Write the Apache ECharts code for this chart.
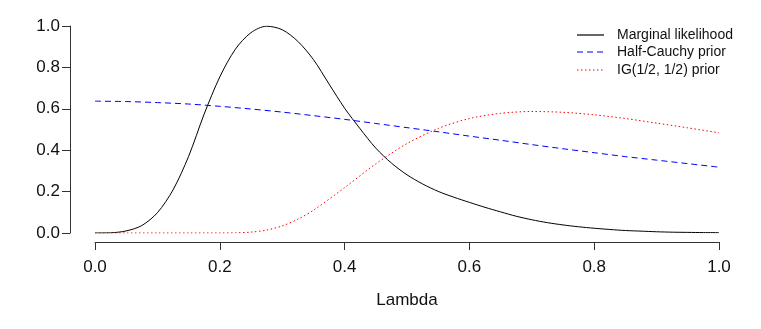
<!DOCTYPE html>
<html><head><meta charset="utf-8">
<script src="https://cdn.jsdelivr.net/npm/echarts@6/dist/echarts.min.js"></script>
<style>html,body{margin:0;padding:0;background:#fff}#c{width:761px;height:329px}</style>
</head><body><div id="c"></div>
<script>
const lambdaML = [0,0.025,0.05,0.075,0.1,0.125,0.15,0.175,0.2,0.225,0.25,0.275,0.3,0.325,0.35,0.375,0.4,0.425,0.45,0.475,0.5,0.525,0.55,0.575,0.6,0.625,0.65,0.675,0.7,0.725,0.75,0.775,0.8,0.825,0.85,0.875,0.9,0.925,0.95,0.975,1.0];
const marginalLik = [0,0.001,0.01,0.036,0.098,0.208,0.37,0.575,0.754,0.888,0.968,0.999,0.982,0.926,0.838,0.72,0.603,0.503,0.41,0.338,0.281,0.237,0.201,0.173,0.148,0.124,0.102,0.081,0.064,0.05,0.039,0.03,0.023,0.017,0.012,0.009,0.006,0.004,0.003,0.002,0.0015];
const lambdaHC = [0,0.05,0.1,0.15,0.2,0.25,0.3,0.35,0.4,0.45,0.5,0.55,0.6,0.65,0.7,0.75,0.8,0.85,0.9,0.95,1.0];
const halfCauchy = [0.637,0.635,0.630,0.623,0.612,0.599,0.584,0.567,0.549,0.529,0.509,0.489,0.468,0.448,0.427,0.407,0.388,0.369,0.352,0.335,0.318];
const lambdaIG = [0,0.05,0.1,0.15,0.2,0.225,0.25,0.275,0.3,0.325,0.35,0.4,0.45,0.5,0.55,0.6,0.65,0.7,0.75,0.8,0.85,0.9,0.95,1.0];
const igPrior = [0,0,0,0,0.0001,0.0008,0.0043,0.0142,0.0342,0.0664,0.110,0.219,0.334,0.432,0.505,0.553,0.578,0.587,0.583,0.571,0.553,0.531,0.508,0.484];
const xTicks = [0,0.2,0.4,0.6,0.8,1.0];
const legendNames = ['Marginal likelihood','Half-Cauchy prior','IG(1/2, 1/2) prior'];

const zip = (xs, ys) => xs.map((x,i)=>[x,ys[i]]);
const font = 'Liberation Sans, Arial, sans-serif';
const chart = echarts.init(document.getElementById('c'), null, {renderer:'canvas'});
const axisCommon = {
  type:'value', min:0, max:1, interval:0.2,
  axisLine:{show:true, onZero:false, lineStyle:{color:'#333', width:1}},
  axisTick:{show:true, length:8, lineStyle:{color:'#333'}},
  splitLine:{show:false},
  axisLabel:{color:'#111', fontSize:17, fontFamily:font, formatter:v=>v.toFixed(1)}
};
const legY = [35,52,70];
const legStyles = [
  {stroke:'#666', lineWidth:2},
  {stroke:'#0000ff', lineWidth:1, lineDash:[6,4]},
  {stroke:'#ff0000', lineWidth:1, lineDash:[1.5,2.5]}
];
const graphic = [];
legendNames.forEach((n,i)=>{
  graphic.push({type:'line', shape:{x1:577,y1:legY[i],x2:604,y2:legY[i]}, style:legStyles[i], silent:true});
  graphic.push({type:'text', x:617, y:legY[i], style:{text:n, fill:'#111', font:'14px '+font, verticalAlign:'middle'}, silent:true});
});
chart.setOption({
  animation:false,
  backgroundColor:'#fff',
  grid:{left:95, right:42, top:26, bottom:96, containLabel:false},
  xAxis:Object.assign({}, axisCommon, {
    position:'bottom', offset:9,
    name:'Lambda', nameLocation:'middle', nameGap:50,
    nameTextStyle:{color:'#111', fontSize:17, fontFamily:font},
    axisLabel:Object.assign({}, axisCommon.axisLabel, {margin:17})
  }),
  yAxis:Object.assign({}, axisCommon, {
    position:'left', offset:25,
    axisLabel:Object.assign({}, axisCommon.axisLabel, {margin:10})
  }),
  graphic:graphic,
  series:[
    {name:legendNames[0], type:'line', data:zip(lambdaML, marginalLik), showSymbol:false, smooth:0.3,
     lineStyle:{color:'#000', width:1}},
    {name:legendNames[1], type:'line', data:zip(lambdaHC, halfCauchy), showSymbol:false, smooth:0.3,
     lineStyle:{color:'#0000ff', width:1, type:[6,4]}},
    {name:legendNames[2], type:'line', data:zip(lambdaIG, igPrior), showSymbol:false, smooth:0.3,
     lineStyle:{color:'#ff0000', width:1, type:[1.5,2.5]}}
  ]
});
</script></body></html>
